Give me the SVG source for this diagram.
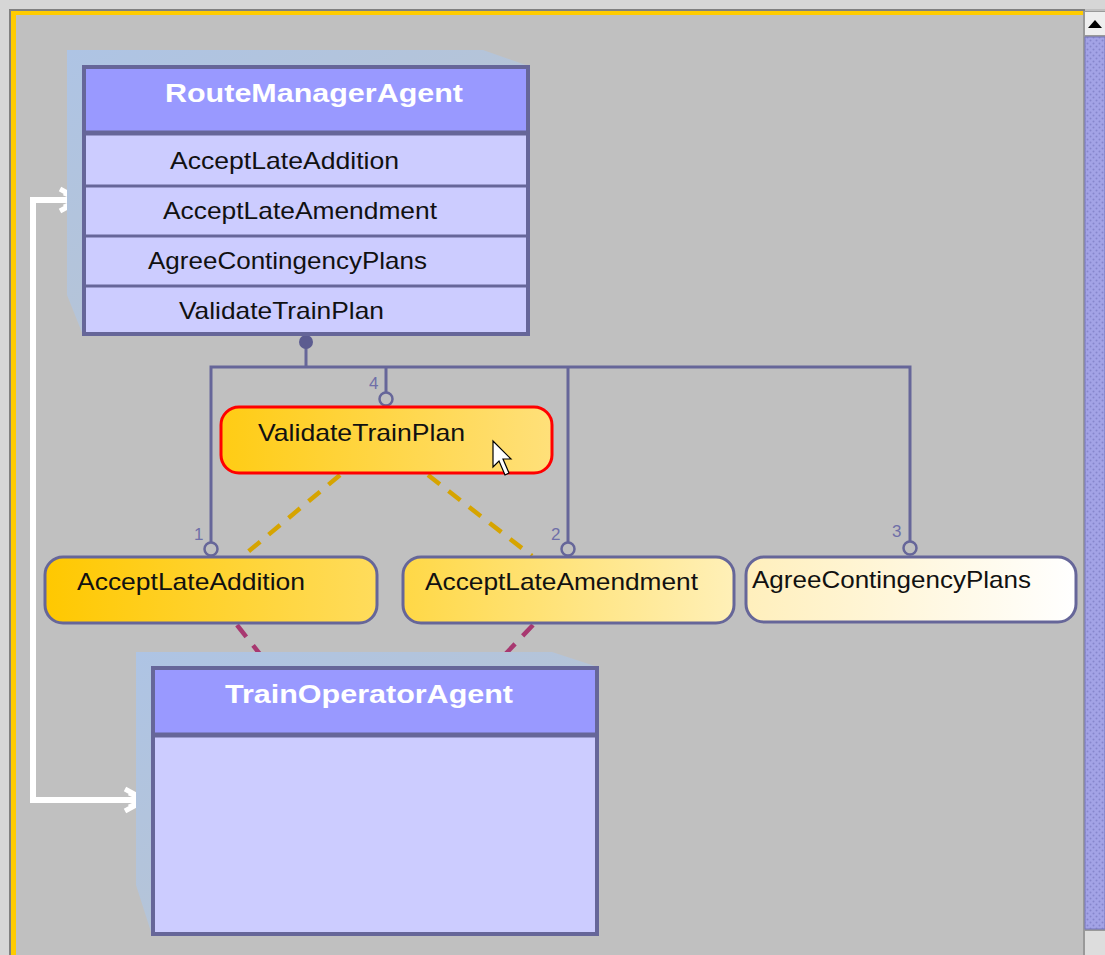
<svg xmlns="http://www.w3.org/2000/svg" width="1105" height="955" viewBox="0 0 1105 955">
<style>
.agentBorder{fill:none;stroke:#666699;stroke-width:4}
.hdr{fill:#9999ff}
.row{fill:#ccccff}
.sep{stroke:#666699;stroke-width:3}
.shadow{fill:url(#shd)}
.title{font-family:"Liberation Sans",Arial,sans-serif;font-weight:bold;font-size:26px;fill:#ffffff}
.txt{font-family:"Liberation Sans",Arial,sans-serif;font-size:24px;fill:#111111}
.num{font-family:"Liberation Sans",Arial,sans-serif;font-size:17px;fill:#6f6fa8}
.wire{fill:none;stroke:#666699;stroke-width:3}
.ring{fill:#c0c0c0;stroke:#666699;stroke-width:2.5}
.gold{fill:none;stroke:#d6a400;stroke-width:4.5;stroke-dasharray:15 11}
.mag{fill:none;stroke:#a83870;stroke-width:4.5;stroke-dasharray:15 11}
.white{fill:none;stroke:#ffffff;stroke-width:6}
.nodeBorder{stroke:#666699;stroke-width:3}
</style>
<defs>
<linearGradient id="shd" x1="0" y1="0" x2="1" y2="1"><stop offset="0" stop-color="#aec4e4"/><stop offset="0.6" stop-color="#b6c4d6"/><stop offset="1" stop-color="#bcc2ca"/></linearGradient>
<linearGradient id="gA" x1="0" y1="0" x2="1" y2="0"><stop offset="0" stop-color="#ffc800"/><stop offset="1" stop-color="#ffdc5c"/></linearGradient>
<linearGradient id="gV" x1="0" y1="0" x2="1" y2="0"><stop offset="0" stop-color="#ffcc14"/><stop offset="1" stop-color="#ffe07a"/></linearGradient>
<linearGradient id="gB" x1="0" y1="0" x2="1" y2="0"><stop offset="0" stop-color="#ffd846"/><stop offset="1" stop-color="#fff0b8"/></linearGradient>
<linearGradient id="gC" x1="0" y1="0" x2="1" y2="0"><stop offset="0" stop-color="#ffefbc"/><stop offset="1" stop-color="#ffffff"/></linearGradient>
<pattern id="dots" width="6" height="6" patternUnits="userSpaceOnUse">
<rect width="6" height="6" fill="#a3a3e6"/>
<circle cx="1.5" cy="1.5" r="1" fill="#8686cc"/>
<circle cx="4.5" cy="4.5" r="1" fill="#8686cc"/>
</pattern>
</defs>

<!-- frame -->
<rect x="0" y="0" width="1105" height="955" fill="#c0c0c0"/>
<rect x="0" y="0" width="1105" height="9" fill="#d6d6d6"/>
<rect x="0" y="0" width="9" height="955" fill="#d6d6d6"/>
<rect x="9" y="9" width="1076" height="2" fill="#808080"/>
<rect x="9" y="9" width="2" height="946" fill="#808080"/>
<rect x="11" y="11" width="1072" height="4" fill="#ffcc00"/>
<rect x="11" y="11" width="5" height="944" fill="#ffcc00"/>

<!-- scrollbar -->
<g id="scrollbar">
<rect x="1083" y="11" width="22" height="944" fill="#999999"/>
<rect x="1085" y="12" width="20" height="23" fill="#eeeeee"/>
<polygon points="1088,28 1102,28 1095,20" fill="#000000"/>
<rect x="1085" y="37" width="20" height="892" fill="url(#dots)" stroke="#7777bb" stroke-width="1"/>
<rect x="1085" y="931" width="20" height="24" fill="#dddddd"/>
</g>

<!-- connectors -->
<g id="connectors">
<polyline class="white" points="80,200 33,200 33,800 145,800"/>
<path d="M60,189 L80,200 L60,211 M64,193 L80,200 L64,207" fill="none" stroke="#ffffff" stroke-width="5" stroke-linejoin="round"/>
<path d="M125,789 L145,800 L125,811 M129,793 L145,800 L129,807" fill="none" stroke="#ffffff" stroke-width="5" stroke-linejoin="round"/>

<line class="gold" x1="340" y1="475" x2="243" y2="556"/>
<line class="gold" x1="428" y1="475" x2="532" y2="556"/>
<line class="mag" x1="237" y1="625" x2="270" y2="667"/>
<line class="mag" x1="533" y1="625" x2="493" y2="667"/>

<line class="wire" x1="306" y1="340" x2="306" y2="367"/>
<polyline class="wire" points="211,548 211,367 910,367 910,548"/>
<line class="wire" x1="386" y1="367" x2="386" y2="398"/>
<line class="wire" x1="568" y1="367" x2="568" y2="548"/>
<circle cx="306" cy="342" r="7" fill="#5c5c90"/>
<circle class="ring" cx="386" cy="399" r="6.5"/>
<circle class="ring" cx="211" cy="549" r="6.5"/>
<circle class="ring" cx="568" cy="549" r="6.5"/>
<circle class="ring" cx="910" cy="548" r="6.5"/>
<text class="num" x="369" y="389">4</text>
<text class="num" x="194" y="540">1</text>
<text class="num" x="551" y="540">2</text>
<text class="num" x="892" y="537">3</text>
</g>

<!-- RouteManagerAgent -->
<g id="RouteManagerAgent">
<polygon class="shadow" points="67,50 483,50 529,66 83,66 83,335 67,295"/>
<rect class="hdr" x="83" y="66" width="446" height="67"/>
<rect class="row" x="83" y="133" width="446" height="202"/>
<line class="sep" x1="83" y1="133" x2="529" y2="133" style="stroke-width:5"/>
<line class="sep" x1="83" y1="186" x2="529" y2="186"/>
<line class="sep" x1="83" y1="236" x2="529" y2="236"/>
<line class="sep" x1="83" y1="286" x2="529" y2="286"/>
<rect class="agentBorder" x="84" y="67" width="444" height="267"/>
<text class="title" x="165" y="102" textLength="298" lengthAdjust="spacingAndGlyphs">RouteManagerAgent</text>
<text class="txt" x="170" y="169" textLength="229" lengthAdjust="spacingAndGlyphs">AcceptLateAddition</text>
<text class="txt" x="163" y="219" textLength="274" lengthAdjust="spacingAndGlyphs">AcceptLateAmendment</text>
<text class="txt" x="148" y="269" textLength="279" lengthAdjust="spacingAndGlyphs">AgreeContingencyPlans</text>
<text class="txt" x="179" y="319" textLength="205" lengthAdjust="spacingAndGlyphs">ValidateTrainPlan</text>
</g>

<!-- TrainOperatorAgent -->
<g id="TrainOperatorAgent">
<polygon class="shadow" points="136,652 552,652 598,667 152,667 152,935 136,885"/>
<rect class="hdr" x="152" y="667" width="446" height="68"/>
<rect class="row" x="152" y="735" width="446" height="200"/>
<line class="sep" x1="152" y1="735" x2="598" y2="735" style="stroke-width:5"/>
<rect class="agentBorder" x="153" y="668" width="444" height="266"/>
<text class="title" x="225" y="703" textLength="288" lengthAdjust="spacingAndGlyphs">TrainOperatorAgent</text>
</g>

<!-- ValidateTrainPlan -->
<g id="ValidateTrainPlan">
<rect x="221" y="407" width="331" height="66" rx="18" fill="url(#gV)" stroke="#ff0000" stroke-width="3"/>
<text class="txt" x="258" y="441" textLength="207" lengthAdjust="spacingAndGlyphs">ValidateTrainPlan</text>
</g>

<!-- AcceptLateAddition -->
<g id="AcceptLateAddition">
<rect class="nodeBorder" x="45" y="557" width="332" height="66" rx="18" fill="url(#gA)"/>
<text class="txt" x="77" y="590" textLength="228" lengthAdjust="spacingAndGlyphs">AcceptLateAddition</text>
</g>

<!-- AcceptLateAmendment -->
<g id="AcceptLateAmendment">
<rect class="nodeBorder" x="403" y="557" width="331" height="66" rx="18" fill="url(#gB)"/>
<text class="txt" x="425" y="590" textLength="273" lengthAdjust="spacingAndGlyphs">AcceptLateAmendment</text>
</g>

<!-- AgreeContingencyPlans -->
<g id="AgreeContingencyPlans">
<rect class="nodeBorder" x="746" y="557" width="330" height="65" rx="18" fill="url(#gC)"/>
<text class="txt" x="752" y="588" textLength="279" lengthAdjust="spacingAndGlyphs">AgreeContingencyPlans</text>
</g>

<!-- cursor -->
<polygon points="493,441 493,467 499,461 505,475 509,473 503,459 511,459" fill="#ffffff" stroke="#000000" stroke-width="1.2" stroke-linejoin="miter"/>
</svg>
